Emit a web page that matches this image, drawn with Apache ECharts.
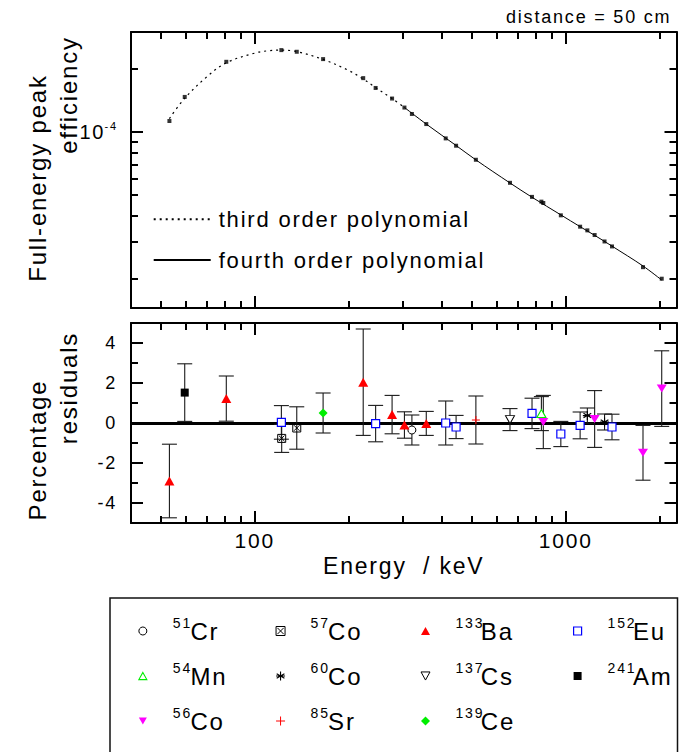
<!DOCTYPE html>
<html>
<head>
<meta charset="utf-8">
<script src="https://cdn.jsdelivr.net/npm/echarts@6.0.0/dist/echarts.min.js"></script>
<style>
html,body{margin:0;padding:0;background:#fff;}
#chart{width:679px;height:752px;}
#chart svg text{letter-spacing:1.8px;white-space:pre;}
</style>
</head>
<body>
<div id="chart"></div>
<script>
// ---------- axis ranges & ticks ----------
const xMin = 40, xMax = 2270;
const effMin = 1.45e-5, effMax = 3e-4;
const resMin = -5, resMax = 5;
const xMajorTicks = [100, 1000];
const xMinorTicks = [50, 60, 70, 80, 90, 200, 300, 400, 500, 600, 700, 800, 900, 2000];
const effMajorTicks = [1e-4];
const effMinorTicks = [2e-5, 3e-5, 4e-5, 5e-5, 6e-5, 7e-5, 8e-5, 9e-5, 2e-4];
const resMajorTicks = [-4, -2, 0, 2, 4];
const resMinorTicks = [-3, -1, 1, 3];

// ---------- top panel: efficiency ----------
const effEnergy = [53.16, 59.54, 81.0, 121.78, 136.47, 165.86, 223.2, 244.70, 276.40, 302.85, 320.08, 356.01, 411.12, 443.96, 514.0, 661.66, 778.90, 834.85, 846.77, 964.08, 1112.08, 1173.23, 1238.28, 1332.49, 1408.01, 1771.35, 2034.76];
const effValue  = [1.129e-4, 1.471e-4, 2.163e-4, 2.459e-4, 2.415e-4, 2.228e-4, 1.808e-4, 1.623e-4, 1.445e-4, 1.309e-4, 1.220e-4, 1.092e-4, 9.33e-5, 8.61e-5, 7.38e-5, 5.73e-5, 4.91e-5, 4.66e-5, 4.59e-5, 4.01e-5, 3.54e-5, 3.40e-5, 3.23e-5, 3.01e-5, 2.85e-5, 2.27e-5, 2.00e-5];

const fit3Energy = [53.16, 59.54, 70, 81.0, 100, 110, 121.78, 136.47, 165.86, 200, 223.2, 244.70, 276.40, 302.85];
const fit3Value  = [1.16e-4, 1.45e-4, 1.83e-4, 2.14e-4, 2.38e-4, 2.44e-4, 2.46e-4, 2.42e-4, 2.22e-4, 1.97e-4, 1.79e-4, 1.63e-4, 1.445e-4, 1.31e-4];

const fit4Energy = [302.85, 356.01, 443.96, 514.0, 661.66, 778.90, 964.08, 1112.08, 1238.28, 1408.01, 1771.35, 2034.76];
const fit4Value  = [1.31e-4, 1.092e-4, 8.63e-5, 7.37e-5, 5.72e-5, 4.89e-5, 4.03e-5, 3.54e-5, 3.22e-5, 2.86e-5, 2.30e-5, 1.97e-5];

// ---------- bottom panel: percentage residuals (value, error) ----------
const cr51E  = [320.08];  const cr51R  = [-0.35]; const cr51Err  = [0.75];
const co57E  = [122.06, 136.47]; const co57R = [-0.77, -0.25]; const co57Err = [0.70, 1.06];
const ba133E = [53.16, 81.0, 223.2, 276.40, 302.85, 356.01];
const ba133R = [-2.90, 1.22, 2.04, 0.42, -0.10, -0.02];
const ba133Err = [1.84, 1.13, 2.66, 0.96, 0.66, 0.60];
const eu152E = [121.78, 244.70, 411.12, 443.96, 778.90, 964.08, 1112.08, 1408.01];
const eu152R = [0.03, -0.03, 0.0, -0.20, 0.48, -0.55, -0.12, -0.20];
const eu152Err = [0.84, 0.91, 1.10, 0.58, 0.76, 0.63, 0.67, 0.64];
const mn54E  = [834.85];  const mn54R  = [0.47];  const mn54Err  = [0.85];
const co60E  = [1173.23, 1332.49]; const co60R = [0.37, 0.05]; const co60Err = [0.38, 0.40];
const cs137E = [661.66];  const cs137R = [0.17];  const cs137Err = [0.55];
const am241E = [59.54];   const am241R = [1.52];  const am241Err = [1.44];
const co56E  = [846.77, 1238.28, 1771.35, 2034.76];
const co56R  = [0.05, 0.20, -1.49, 1.72];
const co56Err = [1.33, 1.42, 1.37, 1.89];
const sr85E  = [514.0];   const sr85R  = [0.15];  const sr85Err  = [1.20];
const ce139E = [165.86];  const ce139R = [0.50];  const ce139Err = [1.00];

const isotopes = [
  {name:'51Cr',  E:cr51E,  R:cr51R,  Err:cr51Err},
  {name:'57Co',  E:co57E,  R:co57R,  Err:co57Err},
  {name:'133Ba', E:ba133E, R:ba133R, Err:ba133Err},
  {name:'152Eu', E:eu152E, R:eu152R, Err:eu152Err},
  {name:'54Mn',  E:mn54E,  R:mn54R,  Err:mn54Err},
  {name:'60Co',  E:co60E,  R:co60R,  Err:co60Err},
  {name:'137Cs', E:cs137E, R:cs137R, Err:cs137Err},
  {name:'241Am', E:am241E, R:am241R, Err:am241Err},
  {name:'56Co',  E:co56E,  R:co56R,  Err:co56Err},
  {name:'85Sr',  E:sr85E,  R:sr85R,  Err:sr85Err},
  {name:'139Ce', E:ce139E, R:ce139R, Err:ce139Err}
];

// ---------- styles ----------
const FONT = '"Liberation Sans", Arial, Helvetica, sans-serif';
const SYM = {
  '51Cr':  {symbol:'circle', size:8, fill:'#ffffff', stroke:'#000000', bw:1},
  '57Co':  {symbol:'path://M0,0L10,0L10,10L0,10Z M1.5,1.5L8.5,8.5 M8.5,1.5L1.5,8.5', size:8, fill:'rgba(0,0,0,0)', stroke:'#000000', bw:1},
  '133Ba': {symbol:'path://M5,0L10,9L0,9Z', size:[10,9], fill:'#ff0000', stroke:'#ff0000', bw:0},
  '152Eu': {symbol:'rect', size:8, fill:'#ffffff', stroke:'#0000ff', bw:1.2},
  '54Mn':  {symbol:'path://M5,0L10,9L0,9Z', size:[9,8], fill:'#ffffff', stroke:'#00ee00', bw:1.1},
  '60Co':  {symbol:'path://M5,0L5,10 M0.7,2.5L9.3,7.5 M9.3,2.5L0.7,7.5 M0,5L10,5', size:9, fill:'rgba(0,0,0,0)', stroke:'#000000', bw:1.1},
  '137Cs': {symbol:'path://M0,0L10,0L5,9Z', size:[9,8], fill:'#ffffff', stroke:'#000000', bw:1},
  '241Am': {symbol:'rect', size:8, fill:'#000000', stroke:'#000000', bw:0},
  '56Co':  {symbol:'path://M0,0L10,0L5,9Z', size:[10,8], fill:'#ff00ff', stroke:'#ff00ff', bw:0},
  '85Sr':  {symbol:'path://M5,0L5,10 M0,5L10,5', size:8, fill:'rgba(0,0,0,0)', stroke:'#ff0000', bw:1},
  '139Ce': {symbol:'diamond', size:9, fill:'#00ee00', stroke:'#00ee00', bw:0}
};

function zip(a, b) { return a.map((v, i) => [v, b[i]]); }

function axis(gridIndex, position, type, min, max, ticks, tickLen, showLine, label, extra) {
  const a = {
    type: type, gridIndex: gridIndex, position: position, min: min, max: max,
    axisLine: {show: showLine, onZero: false, lineStyle: {color: '#000', width: 2}},
    axisTick: {show: true, inside: true, length: tickLen, customValues: ticks, lineStyle: {color: '#000', width: 2}},
    axisLabel: label || {show: false},
    splitLine: {show: false},
    minorTick: {show: false},
    minorSplitLine: {show: false},
    axisPointer: {show: false}
  };
  if (type === 'log') a.logBase = 10;
  return Object.assign(a, extra || {});
}

const MAJ = 12, MIN = 7;

const xAxes = [
  axis(0, 'bottom', 'log', xMin, xMax, xMajorTicks, MAJ, true),
  axis(0, 'bottom', 'log', xMin, xMax, xMinorTicks, MIN, false),
  axis(0, 'top', 'log', xMin, xMax, xMajorTicks, MAJ, true),
  axis(0, 'top', 'log', xMin, xMax, xMinorTicks, MIN, false),
  axis(1, 'bottom', 'log', xMin, xMax, xMajorTicks, MAJ, true,
    {show: true, customValues: xMajorTicks, formatter: v => String(Math.round(v)),
     fontSize: 21, color: '#000', fontFamily: FONT, margin: 7},
    {name: 'Energy  / keV', nameLocation: 'middle', nameGap: 31,
     nameTextStyle: {fontSize: 23, color: '#000', fontFamily: FONT}}),
  axis(1, 'bottom', 'log', xMin, xMax, xMinorTicks, MIN, false),
  axis(1, 'top', 'log', xMin, xMax, xMajorTicks, MAJ, true),
  axis(1, 'top', 'log', xMin, xMax, xMinorTicks, MIN, false)
];

const yAxes = [
  axis(0, 'left', 'log', effMin, effMax, effMajorTicks, MAJ, true,
    {show: true, customValues: effMajorTicks, formatter: () => '{a|10}{b|-4}', margin: 13,
     rich: {
       a: {fontSize: 20, lineHeight: 24, verticalAlign: 'middle', color: '#000', fontFamily: FONT, padding: [0, 3, 0, 0]},
       b: {fontSize: 11, lineHeight: 10, verticalAlign: 'top', color: '#000', fontFamily: FONT}
     }}),
  axis(0, 'left', 'log', effMin, effMax, effMinorTicks, MIN, false),
  axis(0, 'right', 'log', effMin, effMax, effMajorTicks, MAJ, true),
  axis(0, 'right', 'log', effMin, effMax, effMinorTicks, MIN, false),
  axis(1, 'left', 'value', resMin, resMax, resMajorTicks, MAJ, true,
    {show: true, customValues: resMajorTicks, formatter: v => String(v),
     fontSize: 18, color: '#000', fontFamily: FONT, margin: 14}),
  axis(1, 'left', 'value', resMin, resMax, resMinorTicks, MIN, false),
  axis(1, 'right', 'value', resMin, resMax, resMajorTicks, MAJ, true),
  axis(1, 'right', 'value', resMin, resMax, resMinorTicks, MIN, false)
];

// error bar data built from the isotope arrays
const errData = [];
isotopes.forEach(iso => iso.E.forEach((e, i) => errData.push([e, iso.R[i] - iso.Err[i], iso.R[i] + iso.Err[i]])));

const series = [
  {type: 'line', name: 'third order polynomial', xAxisIndex: 0, yAxisIndex: 0,
   data: zip(fit3Energy, fit3Value), smooth: 0.35, symbol: 'none', showSymbol: false,
   itemStyle: {color: 'rgba(0,0,0,0)', opacity: 0},
   lineStyle: {color: '#000', width: 1.2, type: [2, 4]}, z: 2, silent: true},
  {type: 'line', name: 'fourth order polynomial', xAxisIndex: 0, yAxisIndex: 0,
   data: zip(fit4Energy, fit4Value), smooth: 0.35, symbol: 'none', showSymbol: false,
   itemStyle: {color: 'rgba(0,0,0,0)', opacity: 0},
   lineStyle: {color: '#000', width: 1}, z: 2, silent: true},
  {type: 'scatter', name: 'efficiency', xAxisIndex: 0, yAxisIndex: 0,
   data: zip(effEnergy, effValue), symbol: 'rect', symbolSize: 4,
   itemStyle: {color: '#000'}, z: 3, silent: true},
  {type: 'custom', name: 'errors', xAxisIndex: 4, yAxisIndex: 4, data: errData,
   encode: {x: 0, y: [1, 2]}, z: 4, silent: true,
   renderItem: function (params, api) {
     const e = api.value(0), lo = api.value(1), hi = api.value(2);
     const pLo = api.coord([e, lo]), pHi = api.coord([e, hi]);
     const hw = 7.5;
     const st = {stroke: '#1a1a1a', lineWidth: 1.1};
     return {type: 'group', children: [
       {type: 'line', shape: {x1: pLo[0], y1: pLo[1], x2: pHi[0], y2: pHi[1]}, style: st},
       {type: 'line', shape: {x1: pLo[0] - hw, y1: pLo[1], x2: pLo[0] + hw, y2: pLo[1]}, style: st},
       {type: 'line', shape: {x1: pHi[0] - hw, y1: pHi[1], x2: pHi[0] + hw, y2: pHi[1]}, style: st}
     ]};
   },
   markLine: {silent: true, symbol: 'none', z: 3, animation: false,
     label: {show: false}, lineStyle: {color: '#000', width: 3, type: 'solid'},
     data: [{yAxis: 0}]}
  }
];

isotopes.forEach(iso => {
  const s = SYM[iso.name];
  series.push({
    type: 'scatter', name: iso.name, xAxisIndex: 4, yAxisIndex: 4,
    data: zip(iso.E, iso.R), symbol: s.symbol, symbolSize: s.size,
    itemStyle: {color: s.fill, borderColor: s.stroke, borderWidth: s.bw, opacity: 1},
    z: 6, silent: true
  });
});

// ---------- legends ----------
const legendCols = [
  {names: ['51Cr', '54Mn', '56Co'], center: 142.3, size: 8},
  {names: ['57Co', '60Co', '85Sr'], center: 280, size: 9},
  {names: ['133Ba', '137Cs', '139Ce'], center: 425, size: 9},
  {names: ['152Eu', '241Am'], center: 577, size: 8}
];

const legends = [{
  orient: 'vertical', left: 152.7, top: 206.3, padding: 0,
  itemWidth: 57, itemHeight: 14, itemGap: 14.7, selectedMode: false,
  data: [
    {name: 'third order polynomial', itemStyle: {color: 'rgba(0,0,0,0)', opacity: 0, borderWidth: 0}},
    {name: 'fourth order polynomial', itemStyle: {color: 'rgba(0,0,0,0)', opacity: 0, borderWidth: 0}}
  ],
  textStyle: {fontSize: 22, lineHeight: 26, color: '#000', fontFamily: FONT, padding: [0, 0, 0, 3]}
}];

legendCols.forEach(col => {
  const pad = 25 - col.size / 2;
  legends.push({
    orient: 'vertical', left: col.center - col.size / 2, top: 616, padding: 0,
    itemWidth: col.size, itemHeight: col.size, itemGap: 18, selectedMode: false,
    data: col.names.map(n => ({
      name: n, icon: SYM[n].symbol,
      itemStyle: {color: SYM[n].fill, borderColor: SYM[n].stroke, borderWidth: SYM[n].bw, opacity: 1}
    })),
    formatter: function (name) {
      const m = name.match(/^(\d+)(.*)$/);
      return '{s|' + m[1] + '}{m|' + m[2] + '}';
    },
    textStyle: {
      color: '#000', fontFamily: FONT,
      rich: {
        s: {fontSize: 14, lineHeight: 12, verticalAlign: 'top', color: '#000', fontFamily: FONT, padding: [0, 2, 0, pad]},
        m: {fontSize: 24, lineHeight: 30, verticalAlign: 'middle', color: '#000', fontFamily: FONT}
      }
    }
  });
});

function vText(text, x, y) {
  return {type: 'text', x: x, y: y, rotation: Math.PI / 2, silent: true,
    style: {text: text, fontSize: 24, fontFamily: FONT, fill: '#000',
      align: 'center', verticalAlign: 'middle', textAlign: 'center', textVerticalAlign: 'middle'}};
}

const option = {
  animation: false,
  backgroundColor: '#ffffff',
  textStyle: {fontFamily: FONT},
  title: {text: 'distance = 50 cm', left: 506, top: 8, padding: 0,
    textStyle: {fontSize: 18, fontWeight: 'normal', color: '#000', fontFamily: FONT}},
  grid: [
    {left: 131, right: 2.5, top: 32, height: 276, containLabel: false, outerBoundsMode: 'none'},
    {left: 131, right: 2.5, top: 323, height: 200, containLabel: false, outerBoundsMode: 'none'}
  ],
  xAxis: xAxes,
  yAxis: yAxes,
  legend: legends,
  series: series,
  graphic: [
    vText('Full-energy peak', 37, 178),
    vText('efficiency', 68, 95),
    vText('Percentage', 37, 450),
    vText('residuals', 68, 388),
    {type: 'rect', silent: true, z: -1,
     shape: {x: 110, y: 598, width: 567.5, height: 200},
     style: {fill: 'none', stroke: '#111', lineWidth: 1.5}}
  ]
};

const chart = echarts.init(document.getElementById('chart'), null, {renderer: 'svg'});
chart.setOption(option);
</script>
</body>
</html>
